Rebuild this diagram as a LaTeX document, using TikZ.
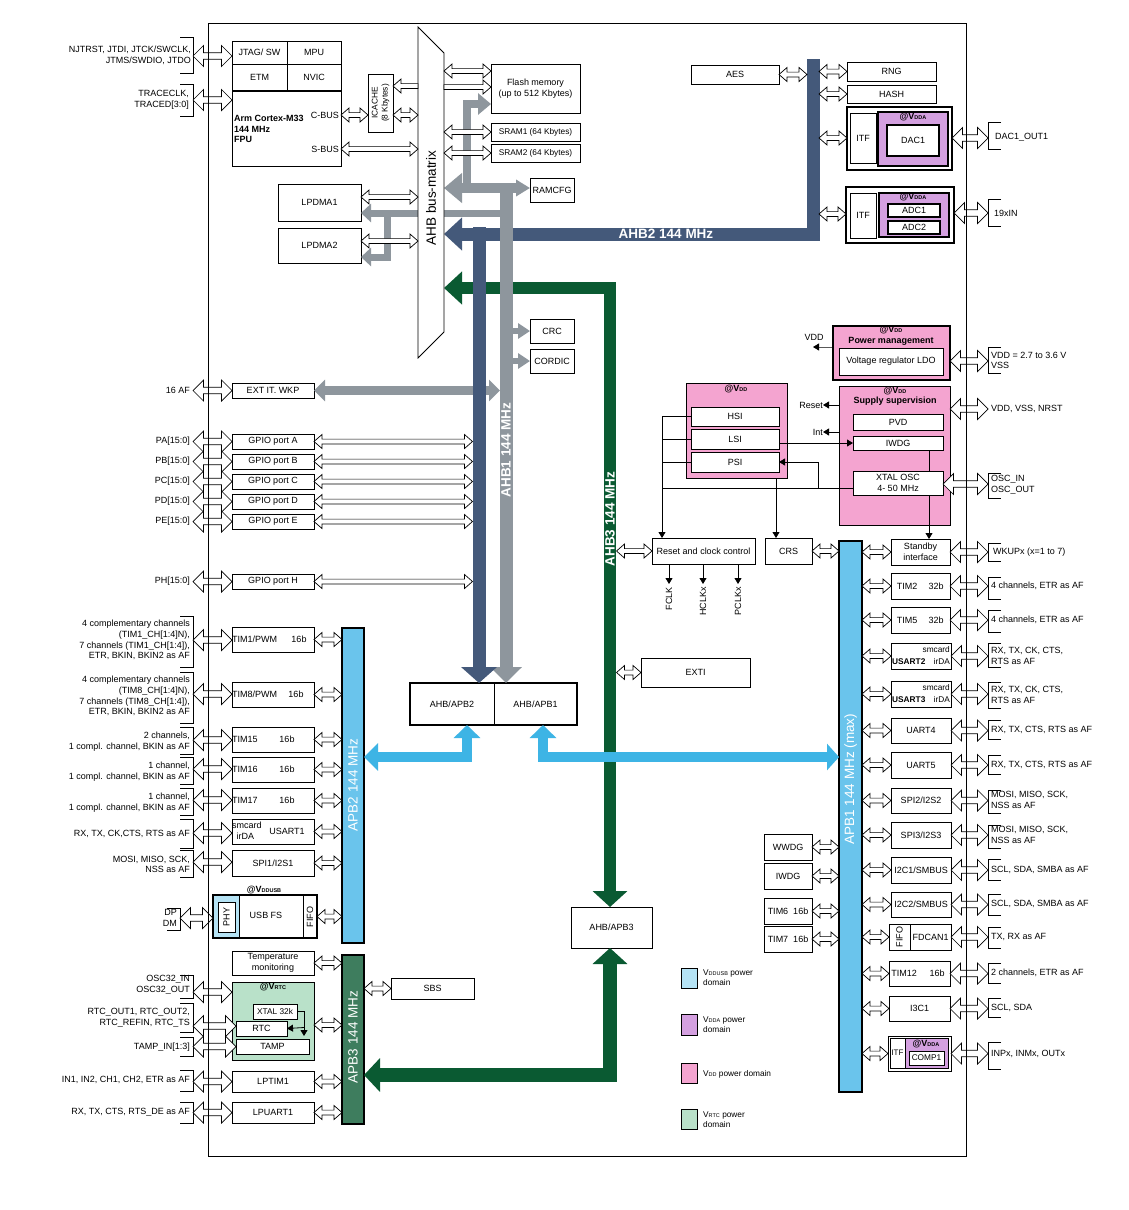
\documentclass[tikz,border=0pt]{standalone}
\usepackage{fontspec}
\setmainfont{Liberation Sans}
\usetikzlibrary{arrows.meta,calc}
\definecolor{dblue}{HTML}{44597A}
\definecolor{bgray}{HTML}{8E969D}
\definecolor{dgreen}{HTML}{0A5A32}
\definecolor{mgreen}{HTML}{3E7D5E}
\definecolor{lblue}{HTML}{3DB4E5}
\definecolor{apbblue}{HTML}{6AC4EC}
\definecolor{pinkd}{HTML}{F4A4D0}
\definecolor{purpd}{HTML}{D4A0E0}
\definecolor{greend}{HTML}{B9E1C9}
\definecolor{usbd}{HTML}{B5E3F5}
\newcommand\fn{\fontsize{9}{10.7}\selectfont}
\newcommand\fb{\fontsize{9}{10.7}\selectfont\bfseries}
\newcommand\fs{\fontsize{8.3}{10}\selectfont}
\newcommand\fbig{\fontsize{13.5}{15}\selectfont}
\newcommand\sbs[1]{{\fontsize{5.5}{6}\selectfont #1}}
\newcommand\bx[7][]{\node[box,minimum width={#5-#3},minimum height={#6-#4},#1] (#2) at ({(#3+#5)/2},{(#4+#6)/2}) {#7};}
\newcommand\fatdar[5]{\filldraw[fill=white,draw=black,line width=.7pt] let \p1=#1,\p2=#2 in (\x1,\y1)--(\x1+#5,\y1+#4)--(\x1+#5,\y1+#3)--(\x2-#5,\y1+#3)--(\x2-#5,\y1+#4)--(\x2,\y1)--(\x2-#5,\y1-#4)--(\x2-#5,\y1-#3)--(\x1+#5,\y1-#3)--(\x1+#5,\y1-#4)--cycle;}
\newcommand\fatl[5]{\filldraw[fill=white,draw=black,line width=.7pt] let \p1=#1,\p2=#2 in (\x1,\y1)--(\x1+#5,\y1+#4)--(\x1+#5,\y1+#3)--(\x2,\y1+#3)--(\x2,\y1-#3)--(\x1+#5,\y1-#3)--(\x1+#5,\y1-#4)--cycle;}
\newcommand\fatr[5]{\filldraw[fill=white,draw=black,line width=.7pt] let \p1=#1,\p2=#2 in (\x2,\y1)--(\x2-#5,\y1+#4)--(\x2-#5,\y1+#3)--(\x1,\y1+#3)--(\x1,\y1-#3)--(\x2-#5,\y1-#3)--(\x2-#5,\y1-#4)--cycle;}
\newcommand\sda[2]{\fatdar{#1}{#2}{2.4pt}{7pt}{8pt}}
\newcommand\lda[2]{\fatdar{#1}{#2}{3.3pt}{10.5pt}{10.5pt}}
\newcommand\lbk[3]{\draw[bk] ({#1-13},#2)--(#1,#2)--(#1,#3)--({#1-13},#3);}
\newcommand\rbk[3]{\draw[bk] ({#1+13},#2)--(#1,#2)--(#1,#3)--({#1+13},#3);}
\begin{document}
\begin{tikzpicture}[x=1pt,y=-1pt,font=\fn,
  box/.style={draw,fill=white,inner sep=0pt,outer sep=0pt,line width=.8pt,align=center},
  bk/.style={line width=.8pt},
  lab/.style={inner sep=0pt,align=right,anchor=east},
  rlab/.style={inner sep=0pt,align=left,anchor=west},
  ln/.style={line width=.8pt},
  tri/.style={-{Triangle[width=7pt,length=6pt]}},
  bartext/.style={text=white,font=\fbig\bfseries,inner sep=0pt},
  apbtext/.style={text=white,font=\fbig,inner sep=0pt,rotate=90}]
\fill[white] (0,0) rectangle (1129,1210);
\useasboundingbox (0,0) rectangle (1129,1210);
% reference coordinates
\coordinate (bL) at (193,0);
\coordinate (bR) at (988,0);
\coordinate (bmL) at (418,0);
\coordinate (bmR) at (444,0);
\coordinate (ahb2L) at (807,0);
\coordinate (ahb2R) at (819,0);
\coordinate (ahb1L) at (472.5,0);
\coordinate (ahb3R) at (616.5,0);
% core
\bx{jtag}{232}{41}{287}{64}{JTAG/ SW}
\bx{mpu}{287}{41}{341}{64}{MPU}
\bx{etm}{232}{64}{287}{91}{ETM}
\bx{nvic}{287}{64}{341}{91}{NVIC}
\bx{core}{232}{91}{341}{166}{}
\draw[line width=2pt] (core.north west)--(core.north east);
\node[anchor=west,align=left,font=\fb,inner sep=0] (cortex) at (234,129) {Arm Cortex-M33\\144 MHz\\FPU};
\node[anchor=east,inner sep=0] (cbus) at (339,115) {C-BUS};
\node[anchor=east,inner sep=0] (sbus) at (339,149) {S-BUS};
\bx{icache}{368}{74}{393}{132}{}
\node[rotate=90,font=\fs,align=center,inner sep=0] (icachet) at (icache) {ICACHE\\(8 Kbytes)};
\bx{lpdma1}{278}{184}{361}{221}{LPDMA1}
\bx{lpdma2}{278}{228}{361}{263}{LPDMA2}
% memories
\bx{flash}{491}{64}{580}{113}{Flash memory\\(up to 512 Kbytes)}
\bx[font=\fs]{sram1}{491}{123}{580}{141}{SRAM1 (64 Kbytes)}
\bx[font=\fs]{sram2}{491}{144}{580}{162}{SRAM2 (64 Kbytes)}
\bx{ramcfg}{530}{178}{574}{202}{RAMCFG}
\bx{crc}{530}{319}{574}{343}{CRC}
\bx{cordic}{530}{349}{574}{373}{CORDIC}
% AHB2 peripherals
\bx{aes}{691}{65}{779}{84}{AES}
\bx{rng}{847}{62}{936}{81}{RNG}
\bx{hash}{847}{85}{936}{103}{HASH}
\bx[line width=1.2pt]{dacblk}{847}{107}{952}{170}{}
\bx{itf1}{850}{113}{876}{163}{ITF}
\bx[fill=purpd,line width=1.2pt]{dacdom}{878}{112}{948}{166}{}
\node[font=\fb,inner sep=0] (vdac) at (913,117.5) {@V\sbs{DDA}};
\bx[line width=1.2pt]{dac1}{887}{125}{939}{156}{DAC1}
\bx[line width=1.2pt]{adcblk}{846}{187}{954}{243}{}
\bx{itf2}{850}{193}{876}{238}{ITF}
\bx[fill=purpd,line width=1.2pt]{adcdom}{879}{193}{949}{237}{}
\node[font=\fb,inner sep=0] (vadc) at (913,197.5) {@V\sbs{DDA}};
\bx[line width=1.2pt]{adc1}{888}{204}{940}{217}{ADC1}
\bx[line width=1.2pt]{adc2}{888}{221}{940}{234}{ADC2}
% power
\bx[fill=pinkd,line width=1.2pt]{pwr}{833}{326}{950}{380}{}
\node[font=\fb,inner sep=0] (vpwr) at (891,330.5) {@V\sbs{DD}};
\node[font=\fb,inner sep=0] (pwrt) at (891,341.5) {Power management};
\bx{ldo}{839}{348}{943}{375}{Voltage regulator LDO}
\bx[fill=pinkd]{sup}{839}{386}{950}{525}{}
\node[font=\fb,inner sep=0] (vsup) at (895,391) {@V\sbs{DD}};
\node[font=\fb,inner sep=0] (supt) at (895,401.5) {Supply supervision};
\bx{pvd}{853}{414}{943}{430}{PVD}
\bx{iwdgs}{853}{436}{943}{450}{IWDG}
\bx{xtal}{853}{471}{943}{495}{XTAL OSC\\4- 50 MHz}
% clock
\bx[fill=pinkd]{clk}{686}{383}{787}{478}{}
\node[font=\fb,inner sep=0] (vclk) at (736,389) {@V\sbs{DD}};
\bx{hsi}{691}{407}{779}{426}{HSI}
\bx{lsi}{691}{429}{779}{449}{LSI}
\bx{psi}{691}{452}{779}{472}{PSI}
\bx{rcc}{652}{538}{755}{564}{Reset and clock control}
\bx{crs}{765}{538}{812}{564}{CRS}
\node[rotate=90,anchor=east,inner sep=3pt] (fclk) at (669,584) {FCLK};
\node[rotate=90,anchor=east,inner sep=3pt] (hclk) at (703,584) {HCLKx};
\node[rotate=90,anchor=east,inner sep=3pt] (pclk) at (738,584) {PCLKx};
\node[inner sep=0] (vddlab) at (814,337) {VDD};
\node[anchor=east,inner sep=0] (resetlab) at (823,405) {Reset};
\node[anchor=east,inner sep=0] (intlab) at (823,432) {Int};
% central boxes
\bx{exti}{641}{658}{750}{687}{EXTI}
\bx{ab2}{410}{683}{494}{725}{AHB/APB2}
\bx{ab1}{494}{683}{577}{725}{AHB/APB1}
\draw[line width=2.6pt] (ab2.north west) rectangle (ab1.south east);
\bx{ab3}{571}{907}{652}{948}{AHB/APB3}
% APB1 bar and peripherals
\bx[fill=apbblue,line width=1.2pt]{apb1}{839}{541}{862}{1092}{}
\node[apbtext] (apb1t) at (850.5,779) {APB1 144 MHz (max)};
\bx{stby}{891}{539}{950}{565}{Standby\\interface}
\bx{tim2}{891}{573}{950}{599}{}
\node[inner sep=0] (tim2a) at (907,586) {TIM2}; \node[inner sep=0] (tim2b) at (936,586) {32b};
\bx{tim5}{891}{607}{950}{633}{}
\node[inner sep=0] (tim5a) at (907,620) {TIM5}; \node[inner sep=0] (tim5b) at (936,620) {32b};
\bx{usart2}{891}{643}{951}{669}{}
\node[anchor=east,inner sep=0,font=\fs] (u2a) at (950,650) {smcard};
\node[anchor=west,inner sep=0,font=\fs\bfseries] (u2b) at (892,662) {USART2};
\node[anchor=east,inner sep=0,font=\fs] (u2c) at (950,661) {irDA};
\bx{usart3}{891}{681}{951}{707}{}
\node[anchor=east,inner sep=0,font=\fs] (u3a) at (950,688) {smcard};
\node[anchor=west,inner sep=0,font=\fs\bfseries] (u3b) at (892,700) {USART3};
\node[anchor=east,inner sep=0,font=\fs] (u3c) at (950,699) {irDA};
\bx{uart4}{891}{718}{951}{743}{UART4}
\bx{uart5}{891}{752}{951}{778}{UART5}
\bx{spi2}{891}{788}{951}{813}{SPI2/I2S2}
\bx{spi3}{891}{822}{951}{848}{SPI3/I2S3}
\bx{i2c1}{891}{857}{951}{883}{I2C1/SMBUS}
\bx{i2c2}{891}{892}{951}{917}{I2C2/SMBUS}
\bx{fdcan}{889}{924}{951}{950}{}
\draw[ln] (910,924)--(910,950);
\node[rotate=90,inner sep=0] (fifo2) at (899.5,937) {FIFO};
\node[inner sep=0] (fdcant) at (930.5,937) {FDCAN1};
\bx{tim12}{889}{961}{950}{986}{}
\node[inner sep=0] (t12a) at (904,973) {TIM12}; \node[inner sep=0] (t12b) at (937,973) {16b};
\bx{i3c1}{889}{996}{950}{1021}{I3C1}
\bx[line width=1pt]{comp}{888}{1036}{951}{1071}{}
\draw[ln] (890.5,1038.5) rectangle (948.5,1068.5);
\draw[ln,fill=purpd] (905,1038.5) rectangle (948.5,1068.5);
\node[inner sep=0,font=\fontsize{8}{9}\selectfont] (itf3) at (897.5,1053) {ITF};
\node[font=\fb,inner sep=0] (vcomp) at (926,1044.5) {@V\sbs{DDA}};
\bx[font=\fs,line width=1pt]{comp1}{909}{1051}{944}{1065}{COMP1}
\bx{wwdg}{764}{834}{812}{860}{WWDG}
\bx{iwdg}{764}{863}{812}{889}{IWDG}
\bx{tim6}{764}{898}{812}{924}{TIM6\ \ 16b}
\bx{tim7}{764}{926}{812}{952}{TIM7\ \ 16b}
% left side GPIO
\bx{extwkp}{232}{383}{314}{398}{EXT IT. WKP}
\bx{gpioa}{232}{434}{314}{449}{GPIO port A}
\bx{gpiob}{232}{454}{314}{469}{GPIO port B}
\bx{gpioc}{232}{474}{314}{489}{GPIO port C}
\bx{gpiod}{232}{494}{314}{509}{GPIO port D}
\bx{gpioe}{232}{514}{314}{529}{GPIO port E}
\bx{gpioh}{232}{574}{314}{589}{GPIO port H}
% APB2
\bx[fill=apbblue,line width=1.2pt]{apb2}{342}{628}{364}{943}{}
\node[apbtext] (apb2t) at (353,785) {APB2 144 MHz};
\bx[fill=mgreen,line width=1.2pt]{apb3}{342}{955}{364}{1124}{}
\node[apbtext] (apb3t) at (353,1037) {APB3 144 MHz};
\bx{tim1}{232}{627}{314}{652}{}
\node[anchor=west,inner sep=0] (t1a) at (232,639) {TIM1/PWM}; \node[inner sep=0] (t1b) at (299,639) {16b};
\bx{tim8}{232}{682}{314}{707}{}
\node[anchor=west,inner sep=0] (t8a) at (232,694) {TIM8/PWM}; \node[inner sep=0] (t8b) at (296,694) {16b};
\bx{tim15}{232}{727}{314}{752}{}
\node[anchor=west,inner sep=0] (t15a) at (232,739) {TIM15}; \node[inner sep=0] (t15b) at (287,739) {16b};
\bx{tim16}{232}{757}{314}{782}{}
\node[anchor=west,inner sep=0] (t16a) at (232,769) {TIM16}; \node[inner sep=0] (t16b) at (287,769) {16b};
\bx{tim17}{232}{788}{314}{813}{}
\node[anchor=west,inner sep=0] (t17a) at (232,800) {TIM17}; \node[inner sep=0] (t17b) at (287,800) {16b};
\bx{usart1}{232}{819}{314}{844}{}
\node[anchor=west,inner sep=0] (u1a) at (232,825.5) {smcard};
\node[anchor=west,inner sep=0] (u1b) at (236.5,836.5) {irDA};
\node[inner sep=0] (u1c) at (287,831) {USART1};
\bx{spi1}{232}{850}{314}{876}{SPI1/I2S1}
% USB
\bx[line width=1.5pt]{usb}{213}{895}{317}{938}{}
\fill[usbd] (214,896) rectangle (239,937);
\draw[ln] (239,895)--(239,938);
\draw[ln] (303,895)--(303,938);
\bx{phy}{218}{902}{235}{932}{}
\node[rotate=90,inner sep=0] (phyt) at (phy) {PHY};
\node[inner sep=0] (usbt) at (266,915) {USB FS};
\node[rotate=90,inner sep=0] (fifo1) at (310,917) {FIFO};
\node[font=\fb,inner sep=0] (vusb) at (264,890) {@V\sbs{DDUSB}};
% APB3 side
\bx{temp}{232}{951}{314}{975}{Temperature\\monitoring}
\bx[fill=greend,line width=1pt]{rtcdom}{232}{982}{314}{1060}{}
\node[font=\fb,inner sep=0] (vrtc) at (273,987.5) {@V\sbs{RTC}};
\bx[font=\fs]{xtal32}{253}{1004}{297}{1019}{XTAL 32k}
\bx{rtc}{236}{1021}{287}{1036}{RTC}
\bx{tamp}{236}{1039}{309}{1054}{TAMP}
\bx{lptim}{232}{1071}{314}{1092}{LPTIM1}
\bx{lpuart}{232}{1102}{314}{1123}{LPUART1}
\bx{sbs}{391}{978}{474}{999}{SBS}
% legend
\bx[fill=usbd]{lg1}{681}{968}{697}{988}{}
\node[rlab,font=\fs] (lg1t) at (703,978) {V\sbs{DDUSB} power\\domain};
\bx[fill=purpd]{lg2}{681}{1014}{697}{1035}{}
\node[rlab,font=\fs] (lg2t) at (703,1025) {V\sbs{DDA} power\\domain};
\bx[fill=pinkd]{lg3}{681}{1063}{697}{1083}{}
\node[rlab,font=\fs] (lg3t) at (703,1074) {V\sbs{DD} power domain};
\bx[fill=greend]{lg4}{681}{1109}{697}{1129}{}
\node[rlab,font=\fs] (lg4t) at (703,1120) {V\sbs{RTC} power\\domain};
% ---------------- bars ----------------
\draw[dblue,line width=13pt,line join=miter,-{Triangle[width=32pt,length=18pt]}] (813,59) -- (813,234) -- (bmR |- 0,234);
\node[bartext] (ahb2t) at (666,234) {AHB2 144 MHz};
\draw[dgreen,line width=12.5pt,line join=miter,{Triangle[width=34pt,length=16pt]}-{Triangle[width=32pt,length=18pt]}] (ab3.north -| 610,0) -- (610,288) -- (bmR |- 0,288);
\draw[dgreen,line width=14pt,line join=miter,{Triangle[width=34pt,length=16pt]}-{Triangle[width=33pt,length=16pt]}] (ab3.south -| 610,0) -- (610,1075) -- (apb3.east |- 0,1075);
\node[bartext,rotate=90] (ahb3t) at (610,519) {AHB3 144 MHz};
\draw[bgray,line width=13pt,-{Triangle[width=31pt,length=16pt]}] (506,183) -- (ab1.north -| 506,0);
\draw[bgray,line width=10pt,{Triangle[width=29pt,length=18pt]}-{Triangle[width=16pt,length=14pt]}] (bmR |- 0,188) -- (ramcfg.west |- 0,188);
\draw[bgray,line width=8pt,line join=miter,-{Triangle[width=21pt,length=13pt]}] (467,190) -- (467,104) -- (flash.west |- 0,104);
\draw[bgray,line width=7pt,-{Triangle[width=18pt,length=10pt]}] (503,213) -- (lpdma1.east |- 0,213);
\draw[bgray,line width=7pt,line join=miter,-{Triangle[width=18pt,length=10pt]}] (387,213) -- (387,257) -- (lpdma2.east |- 0,257);
\draw[bgray,line width=6pt,-{Triangle[width=15pt,length=12pt]}] (506,331) -- (crc.west);
\draw[bgray,line width=6pt,-{Triangle[width=15pt,length=12pt]}] (506,361) -- (cordic.west);
\draw[bgray,line width=9pt,{Triangle[width=21pt,length=11pt]}-{Triangle[width=21pt,length=11pt]}] (extwkp.east) -- (500,390.5);
% bus matrix (over the gray LPDMA line)
\draw[fill=white,line width=.8pt] (418,27)--(444,53)--(444,332)--(418,358)--cycle;
\node[rotate=90,font=\fontsize{13.5}{15}\selectfont,inner sep=0] (busm) at (431,198) {AHB bus-matrix};
\draw[dblue,line width=13pt,-{Triangle[width=35pt,length=16pt]}] (479,227) -- (ab2.north -| 479,0);
\node[bartext,rotate=90] (ahb1t) at (506,450) {AHB1 144 MHz};
\draw[lblue,line width=10pt,line join=miter,{Triangle[width=27pt,length=14pt]}-{Triangle[width=26pt,length=13pt]}] (apb2.east |- 0,757) -- (467,757) -- (ab2.south -| 467,0);
\draw[lblue,line width=10pt,line join=miter,{Triangle[width=26pt,length=13pt]}-{Triangle[width=26pt,length=12pt]}] (ab1.south -| 543,0) -- (543,757) -- (apb1.west |- 0,757);
% ---------------- thin connectors ----------------
\draw[ln,tri] (hsi.west) -- (hsi.west -| 662,0) -- (rcc.north -| 662,0);
\draw[ln] (lsi.west) -- (lsi.west -| 662,0);
\draw[ln] (psi.west) -- (psi.west -| 662,0);
\draw[ln] (xtal.west |- 0,488) -- (662,488);
\draw[ln,tri] (818,488) -- (818,462) -- (psi.east);
\draw[ln,tri] (lsi.east |- iwdgs.west) -- (iwdgs.west);
\draw[ln,tri] (clk.south -| 776,0) -- (crs.north -| 776,0);
\draw[ln] (iwdgs.south -| 929,0) -- (xtal.north -| 929,0);
\draw[ln,tri] (xtal.south -| 929,0) -- (stby.north -| 929,0);
\draw[ln,tri] (rcc.south -| fclk) -- (fclk.east);
\draw[ln,tri] (rcc.south -| hclk) -- (hclk.east);
\draw[ln,tri] (rcc.south -| pclk) -- (pclk.east);
\draw[ln,tri] (pwr.west |- 0,347) -- (vddlab.south |- 0,347) -- ++(-1,0);
\draw[ln,tri] (sup.west |- resetlab) -- (resetlab.east);
\draw[ln,tri] (sup.west |- intlab) -- (intlab.east);
\draw[ln] (xtal32.east) -- (xtal32.east -| 304,0) -- (304,1027.5);
\draw[ln,tri] (304,1027.5) -- (304,1036);
\draw[ln,tri] (304,1027.5) -- (rtc.east);
% ---------------- hollow double arrows: internal ----------------
\sda{(core.east |- cbus)}{(icache.west |- cbus)}
\sda{(icache.east |- cbus)}{(bmL |- cbus)}
\fatl{(icache.east |- 0,86)}{(bmL |- 0,86)}{2.4pt}{7pt}{8pt}
\sda{(core.east |- sbus)}{(bmL |- sbus)}
\sda{(lpdma1.east |- 0,197)}{(bmL |- 0,197)}
\sda{(lpdma2.east |- 0,241)}{(bmL |- 0,241)}
\sda{(bmR |- 0,71)}{(flash.west |- 0,71)}
\fatr{(bmR |- 0,87)}{(flash.west |- 0,87)}{2.4pt}{7pt}{8pt}
\sda{(bmR |- sram1)}{(sram1.west)}
\sda{(bmR |- sram2)}{(sram2.west)}
\sda{(aes.east)}{(ahb2L |- aes.east)}
\sda{(ahb2R |- rng)}{(rng.west)}
\sda{(ahb2R |- hash)}{(hash.west)}
\sda{(ahb2R |- 0,138)}{(dacblk.west |- 0,138)}
\sda{(ahb2R |- 0,214)}{(adcblk.west |- 0,214)}
\sda{(ahb3R |- rcc.west)}{(rcc.west)}
\sda{(ahb3R |- exti.west)}{(exti.west)}
\sda{(crs.east)}{(apb1.west |- crs.east)}
\foreach \nd in {gpioa,gpiob,gpioc,gpiod,gpioe,gpioh} {\sda{(\nd.east)}{(ahb1L |- \nd.east)}}
\foreach \nd in {tim1,tim8,tim15,tim16,tim17,usart1,spi1,usb} {\sda{(\nd.east)}{(apb2.west |- \nd.east)}}
\foreach \nd in {temp,lptim,lpuart} {\sda{(\nd.east)}{(apb3.west |- \nd.east)}}
\sda{(rtcdom.east |- 0,1025)}{(apb3.west |- 0,1025)}
\sda{(apb3.east |- sbs.west)}{(sbs.west)}
\foreach \nd in {stby,tim2,tim5,usart2,usart3,uart4,uart5,spi2,spi3,i2c1,i2c2,fdcan,tim12,i3c1,comp} {\sda{(apb1.east |- \nd.west)}{(\nd.west)}}
\foreach \nd in {wwdg,iwdg,tim6,tim7} {\sda{(\nd.east)}{(apb1.west |- \nd.east)}}
% ---------------- external arrows, brackets, labels: left ----------------
\lbk{193}{37}{73}
\node[lab] (ljtag) at (191,55) {NJTRST, JTDI, JTCK/SWCLK,\\JTMS/SWDIO, JTDO};
\lda{(bL |- 0,56)}{(jtag.west |- 0,56)}
\lbk{193}{84}{116}
\node[lab] (ltrace) at (189,100) {TRACECLK,\\TRACED[3:0]};
\lda{(bL |- 0,100)}{(core.west |- 0,100)}
\node[lab] (l16af) at (190,390.5) {16 AF};
\lda{(bL |- extwkp)}{(extwkp.west)}
\node[lab] (lpa) at (190,441.5) {PA[15:0]};
\node[lab] (lpb) at (190,461.5) {PB[15:0]};
\node[lab] (lpc) at (190,481.5) {PC[15:0]};
\node[lab] (lpd) at (190,501.5) {PD[15:0]};
\node[lab] (lpe) at (190,521.5) {PE[15:0]};
\node[lab] (lph) at (190,581.5) {PH[15:0]};
\foreach \nd in {gpioa,gpiob,gpioc,gpiod,gpioe,gpioh} {\lda{(bL |- \nd.west)}{(\nd.west)}}
\lbk{193}{616}{667}
\node[lab] (ltim1) at (190,640) {4 complementary channels\\(TIM1\_CH[1:4]N),\\7 channels (TIM1\_CH[1:4]),\\ETR, BKIN, BKIN2 as AF};
\lda{(bL |- 0,640)}{(tim1.west |- 0,640)}
\lbk{193}{672}{723}
\node[lab] (ltim8) at (190,696) {4 complementary channels\\(TIM8\_CH[1:4]N),\\7 channels (TIM8\_CH[1:4]),\\ETR, BKIN, BKIN2 as AF};
\lda{(bL |- 0,694)}{(tim8.west |- 0,694)}
\lbk{193}{727}{754}
\node[lab] (ltim15) at (190,741.5) {2 channels,\\1 compl. channel, BKIN as AF};
\lda{(bL |- 0,740)}{(tim15.west |- 0,740)}
\lbk{193}{757}{784}
\node[lab] (ltim16) at (190,771.5) {1 channel,\\1 compl. channel, BKIN as AF};
\lda{(bL |- 0,769)}{(tim16.west |- 0,769)}
\lbk{193}{788}{815}
\node[lab] (ltim17) at (190,802.5) {1 channel,\\1 compl. channel, BKIN as AF};
\lda{(bL |- 0,800)}{(tim17.west |- 0,800)}
\lbk{193}{819}{848}
\node[lab] (lus1) at (190,834) {RX, TX, CK,CTS, RTS as AF};
\lda{(bL |- 0,833)}{(usart1.west |- 0,833)}
\lbk{193}{850}{877}
\node[lab] (lspi1) at (190,864.5) {MOSI, MISO, SCK,\\NSS as AF};
\lda{(bL |- 0,862)}{(spi1.west |- 0,862)}
\lbk{180}{908}{930}
\node[lab] (ldp) at (177,918) {DP\\DM};
\lda{(180,918)}{(usb.west |- 0,918)}
\lbk{193}{975}{998}
\node[lab] (losc32) at (190,985) {OSC32\_IN\\OSC32\_OUT};
\lda{(bL |- 0,992)}{(rtcdom.west |- 0,992)}
\lbk{193}{1003}{1032}
\node[lab] (lrtc) at (190,1017.5) {RTC\_OUT1, RTC\_OUT2,\\RTC\_REFIN, RTC\_TS};
\lda{(bL |- 0,1026)}{(rtc.west |- 0,1026)}
\lbk{193}{1037}{1056}
\node[lab] (ltamp) at (190,1047) {TAMP\_IN[1:3]};
\lda{(bL |- tamp.west)}{(tamp.west)}
\lbk{193}{1070}{1091}
\node[lab] (llptim) at (190,1080) {IN1, IN2, CH1, CH2, ETR as AF};
\lda{(bL |- lptim.west)}{(lptim.west)}
\lbk{193}{1102}{1123}
\node[lab] (llpuart) at (190,1112) {RX, TX, CTS, RTS\_DE as AF};
\lda{(bL |- lpuart.west)}{(lpuart.west)}
% ---------------- external arrows, brackets, labels: right ----------------
\rbk{988}{122}{149}
\node[rlab] (rdac) at (995,137) {DAC1\_OUT1};
\lda{(dacblk.east |- 0,138)}{(bR |- 0,138)}
\rbk{988}{199}{226}
\node[rlab] (radc) at (994,213) {19xIN};
\lda{(adcblk.east |- 0,213)}{(bR |- 0,213)}
\rbk{988}{347}{373}
\node[rlab] (rvdd) at (991,360.5) {VDD = 2.7 to 3.6 V\\VSS};
\lda{(pwr.east |- 0,361)}{(bR |- 0,361)}
\node[rlab] (rnrst) at (991,409) {VDD, VSS, NRST};
\lda{(sup.east |- 0,409)}{(bR |- 0,409)}
\rbk{988}{473}{498}
\node[rlab] (rosc) at (991,485) {OSC\_IN\\OSC\_OUT};
\lda{(xtal.east |- 0,484)}{(bR |- 0,484)}
\rbk{988}{543}{561}
\node[rlab] (rwk) at (993,552) {WKUPx (x=1 to 7)};
\rbk{988}{577}{599}
\node[rlab] (rtim2) at (991,586) {4 channels, ETR as AF};
\rbk{988}{610}{632}
\node[rlab] (rtim5) at (991,620) {4 channels, ETR as AF};
\rbk{988}{643}{667}
\node[rlab] (rus2) at (991,656) {RX, TX, CK, CTS,\\RTS as AF};
\rbk{988}{682}{708}
\node[rlab] (rus3) at (991,695) {RX, TX, CK, CTS,\\RTS as AF};
\rbk{988}{720}{739}
\node[rlab] (ruart4) at (991,730) {RX, TX, CTS, RTS as AF};
\rbk{988}{755}{774}
\node[rlab] (ruart5) at (991,765) {RX, TX, CTS, RTS as AF};
\rbk{988}{790}{813}
\node[rlab] (rspi2) at (991,800) {MOSI, MISO, SCK,\\NSS as AF};
\rbk{988}{825}{848}
\node[rlab] (rspi3) at (991,835) {MOSI, MISO, SCK,\\NSS as AF};
\rbk{988}{859}{880}
\node[rlab] (ri2c1) at (991,870) {SCL, SDA, SMBA as AF};
\rbk{988}{894}{915}
\node[rlab] (ri2c2) at (991,904) {SCL, SDA, SMBA as AF};
\rbk{988}{927}{948}
\node[rlab] (rfd) at (991,937) {TX, RX as AF};
\rbk{988}{963}{983}
\node[rlab] (rtim12) at (991,973) {2 channels, ETR as AF};
\rbk{988}{998}{1017}
\node[rlab] (ri3c) at (991,1008) {SCL, SDA};
\rbk{988}{1042}{1069}
\node[rlab] (rcomp) at (991,1054) {INPx, INMx, OUTx};
\foreach \nd in {stby,tim2,tim5,usart2,usart3,uart4,uart5,spi2,spi3,i2c1,i2c2,fdcan,tim12,i3c1,comp} {\lda{(\nd.east)}{(bR |- \nd.east)}}
% chip outline
\node[draw,line width=1.2pt,minimum width=758,minimum height=1133,inner sep=0,anchor=north west] (chip) at (208,23) {};
\end{tikzpicture}
\end{document}
